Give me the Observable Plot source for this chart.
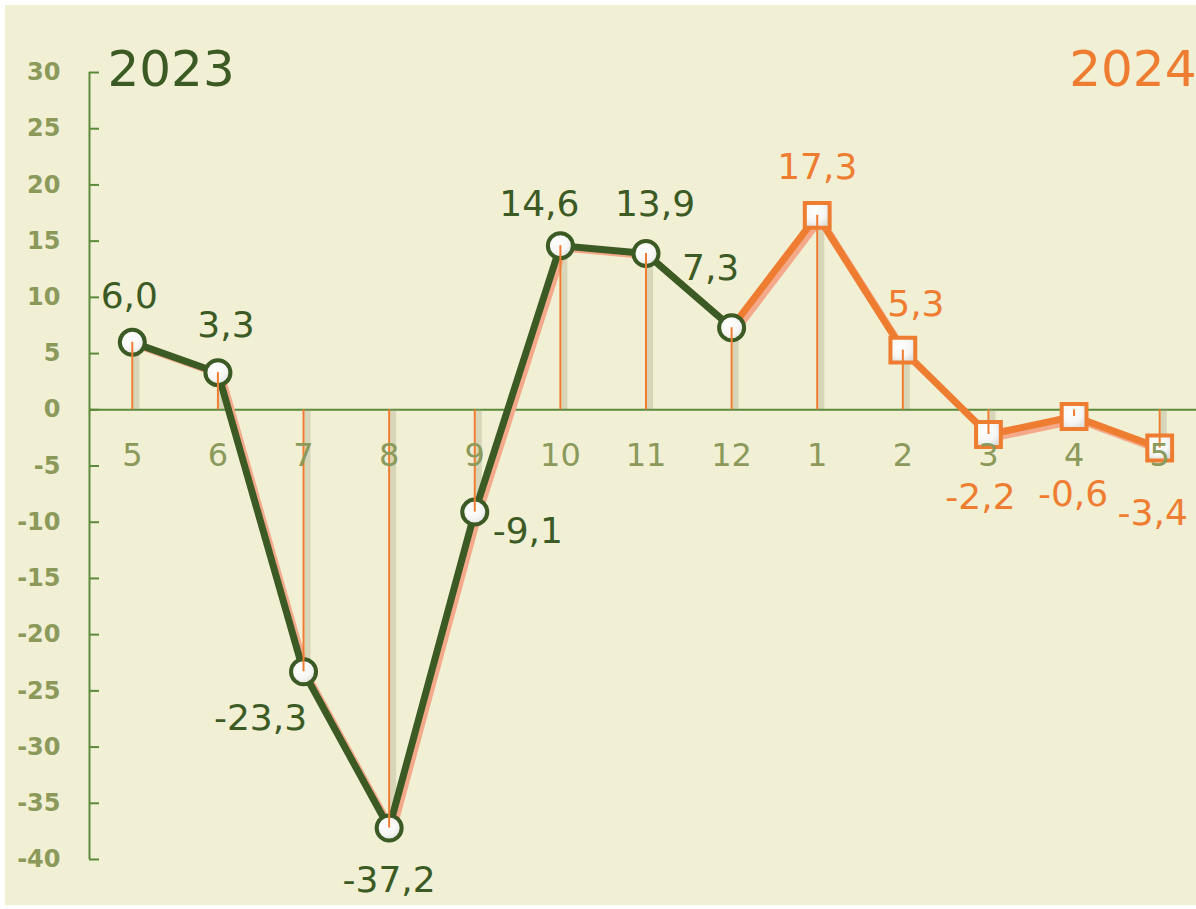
<!DOCTYPE html>
<html>
<head>
<meta charset="utf-8">
<script src="https://cdn.jsdelivr.net/npm/d3@7"></script>
<script src="https://cdn.jsdelivr.net/npm/@observablehq/plot@0.6"></script>
<style>
  html, body { margin: 0; padding: 0; background: #ffffff; }
  #wrap { position: relative; width: 1196px; height: 909px; }
  #bg { position: absolute; left: 5px; top: 5px; width: 1191px; height: 900px; background: #f1efd4; }
  #chart { position: absolute; left: 0; top: 0; }
  #chart svg { background: transparent; overflow: visible; }
</style>
</head>
<body>
<div id="wrap"><div id="bg"></div><div id="chart"></div></div>
<script>
// ---- data ----
const months = ["5", "6", "7", "8", "9", "10", "11", "12", "1", "2", "3", "4", "5"];
const years  = [2023, 2023, 2023, 2023, 2023, 2023, 2023, 2023, 2024, 2024, 2024, 2024, 2024];
const values = [6.0, 3.3, -23.3, -37.2, -9.1, 14.6, 13.9, 7.3, 17.3, 5.3, -2.2, -0.6, -3.4];
const yTicks = [30, 25, 20, 15, 10, 5, 0, -5, -10, -15, -20, -25, -30, -35, -40];
const titles = ["2023", "2024"];

// ---- layout (label placement offsets, px) ----
const labelOffsets = [
  [-3, -46], [8, -47], [-43, 47], [0, 52], [53, 19], [-21, -41], [9, -49],
  [-21, -59], [0, -48], [13, -46], [-8, 63], [-1, 78], [-7, 65]
];

const green = "#3b5a24", orange = "#ef7d31", salmon = "#f4a98a";
const olive = "#8b9a5a", axisGreen = "#5b8a3a";

const pts = values.map((v, i) => ({i, v, m: months[i], year: years[i],
  label: v.toFixed(1).replace(".", ",")}));
const greenPts = pts.filter(d => d.year === 2023);
const orangePts = pts.filter(d => d.year === 2024 || d.i === 7);

const font = "DejaVu Sans, sans-serif";

const valueLabels = pts.map((d, k) => Plot.text([d], {
  x: "i", y: "v", text: "label", dx: labelOffsets[k][0], dy: labelOffsets[k][1],
  fill: d.year === 2023 ? green : orange, fontSize: 36, fontFamily: font
}));

const plot = Plot.plot({
  width: 1196,
  height: 909,
  marginLeft: 89,
  marginRight: 0,
  marginTop: 72,
  marginBottom: 50,
  x: {type: "linear", domain: [-0.5, 12.5], range: [89, 1202], axis: null},
  y: {domain: [-40, 30], range: [859, 72], axis: null},
  marks: [
    // y axis line and zero line
    Plot.ruleX([-0.5], {y1: -40, y2: 30, stroke: axisGreen, strokeWidth: 2}),
    Plot.ruleY([0], {x1: -0.5, x2: 12.5, stroke: axisGreen, strokeWidth: 2}),
    // inward y ticks
    Plot.axisY({ticks: yTicks, tickSize: -10, tickFormat: () => "", label: null, stroke: axisGreen, strokeWidth: 2}),
    Plot.text(yTicks, {x: -0.5, y: d => d, text: d => String(d), dx: -29, textAnchor: "end",
      fill: olive, fontSize: 24, fontWeight: "bold", fontFamily: font}),
    // drop-line shadows
    Plot.ruleX(pts, {x: "i", y1: 0, y2: "v", stroke: "#9c9b7c", strokeOpacity: 0.3, strokeWidth: 6, dx: 4, ariaLabel: "dropshadow"}),
    // line shadows
    Plot.line(greenPts, {x: "i", y: "v", stroke: salmon, strokeWidth: 6, dx: 4, dy: 3}),
    Plot.line(orangePts, {x: "i", y: "v", stroke: salmon, strokeWidth: 6, dx: 4, dy: 4}),
    // lines
    Plot.line(greenPts, {x: "i", y: "v", stroke: green, strokeWidth: 7, strokeLinejoin: "round"}),
    Plot.line(orangePts, {x: "i", y: "v", stroke: orange, strokeWidth: 7, strokeLinejoin: "miter"}),
    // markers
    Plot.dot(greenPts, {x: "i", y: "v", r: 12.5, fill: "url(#mg)", stroke: green, strokeWidth: 4}),
    Plot.dot(pts.filter(d => d.year === 2024), {x: "i", y: "v", r: 14, symbol: "square", fill: "url(#mg)", stroke: orange, strokeWidth: 4}),
    // drop lines
    Plot.ruleX(pts, {x: "i", y1: 0, y2: "v", stroke: orange, strokeWidth: 2}),
    // x category labels
    Plot.text(pts, {x: "i", y: 0, text: "m", dy: 46, fill: olive, fontSize: 32, fontFamily: font}),
    // value labels
    ...valueLabels,
    // year titles
    Plot.text([titles[0]], {frameAnchor: "top-left", text: d => d, dx: 18, dy: -22, textAnchor: "start",
      fill: green, fontSize: 50, fontFamily: font}),
    Plot.text([titles[1]], {frameAnchor: "top-right", text: d => d, dx: 0, dy: -22, textAnchor: "end",
      fill: orange, fontSize: 50, fontFamily: font})
  ]
});
document.getElementById("chart").appendChild(plot);

// gradient for marker fill, blur for drop-line shadows
const svg = d3.select(plot);
const defs = svg.insert("defs", ":first-child");
const g = defs.append("radialGradient").attr("id", "mg").attr("cx", "40%").attr("cy", "35%").attr("r", "70%");
g.append("stop").attr("offset", "0%").attr("stop-color", "#ffffff");
g.append("stop").attr("offset", "60%").attr("stop-color", "#f6f6f4");
g.append("stop").attr("offset", "100%").attr("stop-color", "#dcdcd8");
svg.selectAll('g[aria-label="dropshadow"]').style("filter", "blur(2.5px)");
</script>
</body>
</html>
